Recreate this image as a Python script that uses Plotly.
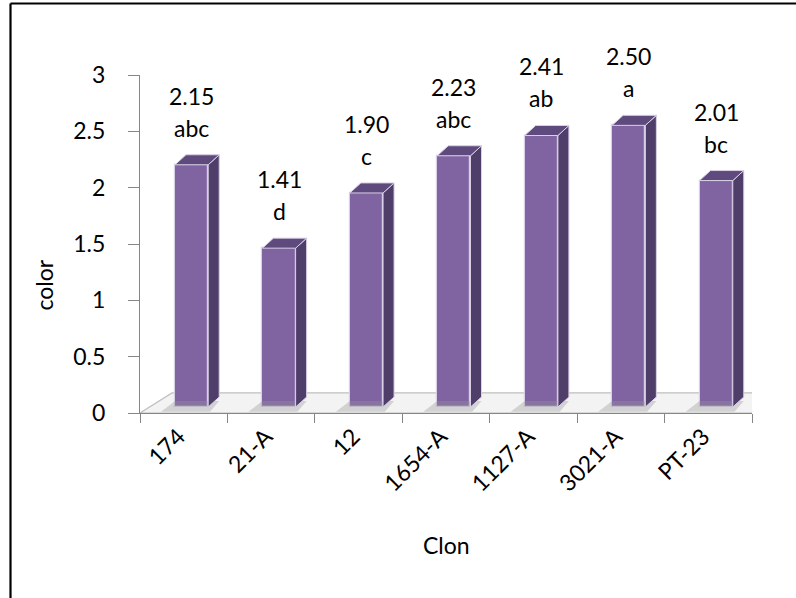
import plotly.graph_objects as go

categories = ["174", "21-A", "12", "1654-A", "1127-A", "3021-A", "PT-23"]
values = [2.15, 1.41, 1.90, 2.23, 2.41, 2.50, 2.01]
letters = ["abc", "d", "c", "abc", "ab", "a", "bc"]
y_ticks = [0, 0.5, 1, 1.5, 2, 2.5, 3]

FRONT = "#8064A2"
SIDE = "#4F3D6A"
TOP = "#5E4A7C"
EDGE = "#D8D0E6"
AXIS = "#868686"
FONT = "Lato"
FS = 23

BASE = 0.053   # bars sit slightly back on the 3D floor
DX = 0.126     # depth offset (x units)
DY = 0.089     # depth offset (y units)
OFF = 0.40
W = 0.38

n = len(categories)
idx = list(range(n))
x0 = [i + OFF for i in idx]
x1 = [i + OFF + W for i in idx]
xc = [i + OFF + W / 2 for i in idx]

side_x, side_y, top_x, top_y, sh_x, sh_y = [], [], [], [], [], []
for a, b, v in zip(x0, x1, values):
    t = v + BASE
    side_x += [b, b + DX, b + DX, b, b, None]
    side_y += [BASE, BASE + DY, t + DY, t, BASE, None]
    top_x += [a, b, b + DX, a + DX, a, None]
    top_y += [t, t, t + DY, t + DY, t, None]
    sh_x += [a - 0.16, b + 0.02, b + DX, a, a - 0.16, None]
    sh_y += [0.012, 0.012, BASE + DY * 0.6, BASE + DY * 0.6, 0.012, None]

fig = go.Figure()
fig.add_trace(go.Scatter(x=sh_x, y=sh_y, mode="lines", fill="toself",
                         fillcolor="rgba(150,150,150,0.35)", line=dict(width=0),
                         hoverinfo="skip", showlegend=False))
fig.add_trace(go.Bar(x=xc, y=values, base=BASE, width=W,
                     marker=dict(color=FRONT, line=dict(color=EDGE, width=1.2)),
                     showlegend=False))
fig.add_trace(go.Scatter(x=side_x, y=side_y, mode="lines", fill="toself",
                         fillcolor=SIDE, line=dict(color=EDGE, width=1),
                         hoverinfo="skip", showlegend=False))
fig.add_trace(go.Scatter(x=top_x, y=top_y, mode="lines", fill="toself",
                         fillcolor=TOP, line=dict(color=EDGE, width=1),
                         hoverinfo="skip", showlegend=False))

annotations = []
for x, v, l in zip(xc, values, letters):
    annotations.append(dict(x=x, y=v + BASE + DY, xref="x", yref="y",
                            text=f"{v:.2f}", showarrow=False,
                            yanchor="middle", yshift=59,
                            font=dict(family=FONT, size=FS, color="black")))
    annotations.append(dict(x=x, y=v + BASE + DY, xref="x", yref="y",
                            text=l, showarrow=False,
                            yanchor="middle", yshift=27,
                            font=dict(family=FONT, size=FS, color="black")))
annotations.append(dict(x=0.5, y=-0.39, xref="paper", yref="paper", text="Clon",
                        showarrow=False, xanchor="center", yanchor="middle",
                        font=dict(family=FONT, size=FS, color="black")))
annotations.append(dict(x=-0.157, y=0.38, xref="paper", yref="paper", text="color",
                        textangle=-90, showarrow=False, xanchor="center", yanchor="middle",
                        font=dict(family=FONT, size=FS, color="black")))

shapes = [
    dict(type="path", xref="x", yref="y", layer="below",
         path=f"M 0,0 L {n},0 L {n + 0.366},0.178 L 0.366,0.178 Z",
         fillcolor="#F3F3F3", line=dict(color="#BFBFBF", width=1.2)),
    dict(type="line", xref="paper", yref="paper", x0=-0.2116, x1=1.1, y0=1.2115, y1=1.2115,
         line=dict(color="black", width=2.2)),
    dict(type="line", xref="paper", yref="paper", x0=-0.2116, x1=-0.2116, y0=1.2115, y1=-0.6,
         line=dict(color="black", width=2.2)),
]

fig.update_layout(
    width=796, height=598,
    margin=dict(l=140, r=44, t=75, b=185),
    paper_bgcolor="white", plot_bgcolor="rgba(0,0,0,0)",
    bargap=0, annotations=annotations, shapes=shapes,
    font=dict(family=FONT, size=FS, color="black"),
    xaxis=dict(range=[0, n], tickmode="array", tickvals=[i + 0.44 for i in idx],
               ticktext=categories, tickangle=-45, ticks="",
               showline=True, linecolor=AXIS, linewidth=1, showgrid=False, zeroline=False,
               tickfont=dict(family=FONT, size=FS, color="black"),
               minor=dict(tickmode="array", tickvals=list(range(n + 1)), ticks="outside",
                          ticklen=9, tickcolor=AXIS, tickwidth=1, showgrid=False)),
    yaxis=dict(range=[0, 3], tickmode="array", tickvals=y_ticks,
               ticks="outside", ticklen=11, tickcolor=AXIS, tickwidth=1,
               showline=True, linecolor=AXIS, linewidth=1, showgrid=False, zeroline=False,
               ticklabelstandoff=18,
               tickfont=dict(family=FONT, size=FS, color="black")),
)

fig.write_html("out.html")
